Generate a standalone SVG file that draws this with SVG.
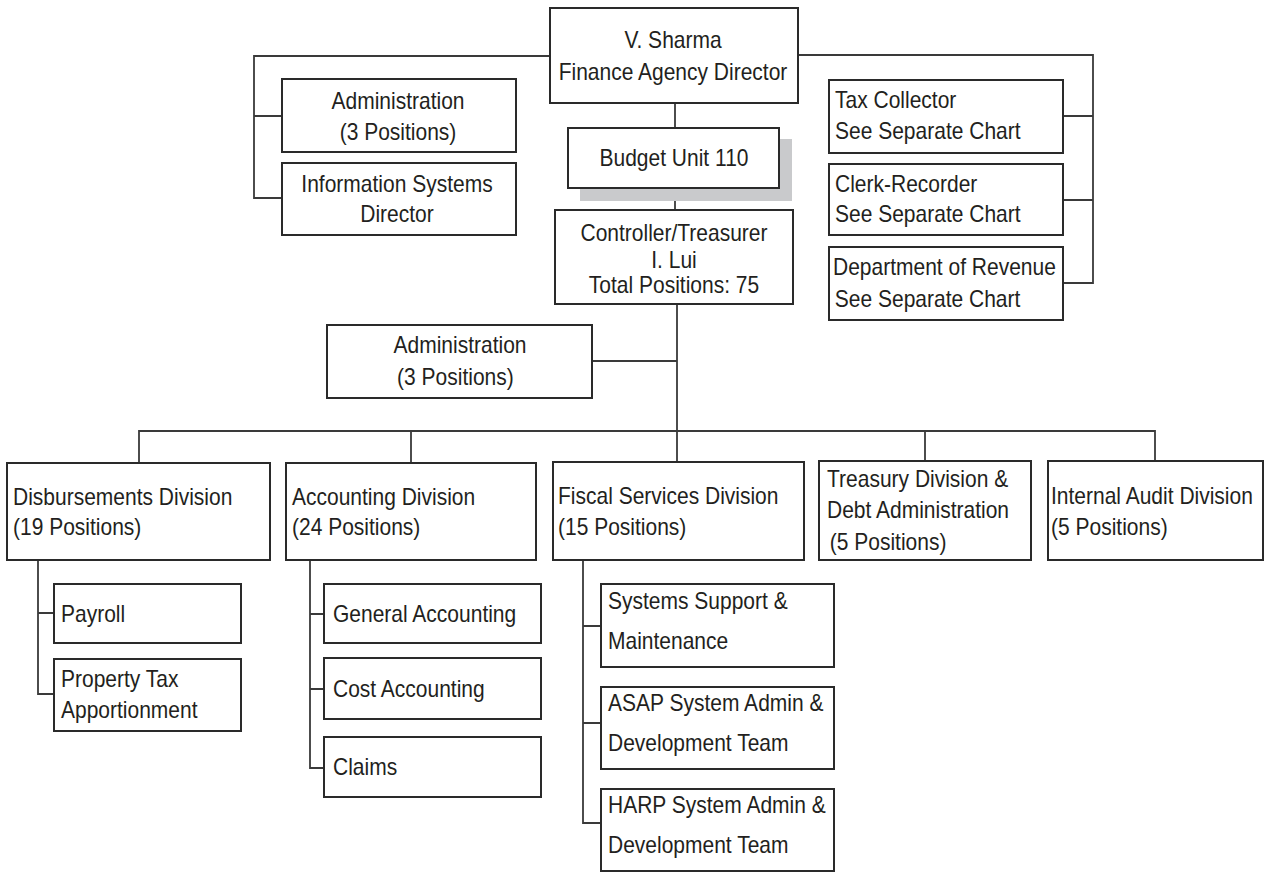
<svg xmlns="http://www.w3.org/2000/svg" width="1265" height="876" viewBox="0 0 1265 876">
  <style>
    .box { fill: #ffffff; stroke: #2a2a2a; stroke-width: 2; }
    .shadow { fill: #c9cacc; stroke: none; }
    .wire { fill: none; stroke: #3a3a3a; stroke-width: 1.8; }
    text { font-family: "Liberation Sans", Arial, sans-serif; font-size: 23px; fill: #231f20; }
    .c { text-anchor: middle; }
  </style>
  <rect width="1265" height="876" fill="#ffffff"/>

  <!-- reporting lines -->
  <g id="connectors">
    <path class="wire" d="M550 56 H254 V198 H282 M254 116 H282"/>
    <path class="wire" d="M798 55 H1093 V283 H1063 M1063 116 H1093 M1063 200 H1093"/>
    <path class="wire" d="M675 103 V128 M675 188 V210 M677 304 V431 M592 361 H677"/>
    <path class="wire" d="M139 463 V431 H1155 V461 M411 431 V463 M677 431 V462 M925 431 V461"/>
    <path class="wire" d="M38 560 V694 H54 M38 613 H54"/>
    <path class="wire" d="M310 560 V768 H324 M310 614 H324 M310 689 H324"/>
    <path class="wire" d="M583 560 V823 H601 M583 626 H601 M583 723 H601"/>
  </g>

  <!-- labels use a narrowed sans: each text is shifted to its anchor x, then squeezed horizontally -->

  <!-- top level -->
  <g id="director">
    <rect class="box" x="550" y="8" width="248" height="95"/>
    <text class="c" transform="translate(673 0) scale(.913 1)"><tspan x="0" y="48">V. Sharma</tspan><tspan x="0" y="80">Finance Agency Director</tspan></text>
  </g>
  <g id="admin-agency">
    <rect class="box" x="282" y="79" width="234" height="73"/>
    <text class="c" transform="translate(398 0) scale(.913 1)"><tspan x="0" y="109">Administration</tspan><tspan x="0" y="140">(3 Positions)</tspan></text>
  </g>
  <g id="info-systems">
    <rect class="box" x="282" y="163" width="234" height="72"/>
    <text class="c" transform="translate(397 0) scale(.913 1)"><tspan x="0" y="192">Information Systems</tspan><tspan x="0" y="222">Director</tspan></text>
  </g>
  <g id="budget-unit">
    <rect class="shadow" x="580" y="139" width="212" height="62"/>
    <rect class="box" x="568" y="128" width="211" height="60"/>
    <text class="c" transform="translate(674 0) scale(.913 1)"><tspan x="0" y="166">Budget Unit 110</tspan></text>
  </g>
  <g id="controller">
    <rect class="box" x="555" y="210" width="238" height="94"/>
    <text class="c" transform="translate(674 0) scale(.913 1)"><tspan x="0" y="241">Controller/Treasurer</tspan><tspan x="0" y="268">I. Lui</tspan><tspan x="0" y="293">Total Positions: 75</tspan></text>
  </g>
  <g id="tax-collector">
    <rect class="box" x="829" y="80" width="234" height="73"/>
    <text transform="translate(835 0) scale(.913 1)"><tspan x="0" y="108">Tax Collector</tspan><tspan x="0" y="139">See Separate Chart</tspan></text>
  </g>
  <g id="clerk-recorder">
    <rect class="box" x="829" y="164" width="234" height="71"/>
    <text transform="translate(835 0) scale(.913 1)"><tspan x="0" y="192">Clerk-Recorder</tspan><tspan x="0" y="222">See Separate Chart</tspan></text>
  </g>
  <g id="revenue">
    <rect class="box" x="829" y="247" width="234" height="73"/>
    <text transform="translate(833 0) scale(.913 1)"><tspan x="0" y="275">Department of Revenue</tspan><tspan x="2" y="307">See Separate Chart</tspan></text>
  </g>
  <g id="admin-controller">
    <rect class="box" x="327" y="325" width="265" height="73"/>
    <text class="c" transform="translate(460 0) scale(.913 1)"><tspan x="0" y="353">Administration</tspan><tspan x="-5" y="385">(3 Positions)</tspan></text>
  </g>

  <!-- divisions -->
  <g id="disbursements">
    <rect class="box" x="7" y="463" width="263" height="97"/>
    <text transform="translate(13 0) scale(.913 1)"><tspan x="0" y="505">Disbursements Division</tspan><tspan x="0" y="535">(19 Positions)</tspan></text>
  </g>
  <g id="accounting">
    <rect class="box" x="286" y="463" width="250" height="97"/>
    <text transform="translate(292 0) scale(.913 1)"><tspan x="0" y="505">Accounting Division</tspan><tspan x="0" y="535">(24 Positions)</tspan></text>
  </g>
  <g id="fiscal">
    <rect class="box" x="553" y="462" width="251" height="98"/>
    <text transform="translate(558 0) scale(.913 1)"><tspan x="0" y="504">Fiscal Services Division</tspan><tspan x="0" y="535">(15 Positions)</tspan></text>
  </g>
  <g id="treasury">
    <rect class="box" x="819" y="461" width="212" height="99"/>
    <text transform="translate(827 0) scale(.913 1)"><tspan x="0" y="487">Treasury Division &amp;</tspan><tspan x="0" y="518">Debt Administration</tspan><tspan x="3" y="550">(5 Positions)</tspan></text>
  </g>
  <g id="internal-audit">
    <rect class="box" x="1048" y="461" width="215" height="99"/>
    <text transform="translate(1051 0) scale(.913 1)"><tspan x="0" y="504">Internal Audit Division</tspan><tspan x="0" y="535">(5 Positions)</tspan></text>
  </g>

  <!-- units -->
  <g id="payroll">
    <rect class="box" x="54" y="584" width="187" height="59"/>
    <text transform="translate(61 0) scale(.913 1)"><tspan x="0" y="622">Payroll</tspan></text>
  </g>
  <g id="property-tax">
    <rect class="box" x="54" y="659" width="187" height="72"/>
    <text transform="translate(61 0) scale(.913 1)"><tspan x="0" y="687">Property Tax</tspan><tspan x="0" y="718">Apportionment</tspan></text>
  </g>
  <g id="general-accounting">
    <rect class="box" x="324" y="584" width="217" height="59"/>
    <text transform="translate(333 0) scale(.913 1)"><tspan x="0" y="622">General Accounting</tspan></text>
  </g>
  <g id="cost-accounting">
    <rect class="box" x="324" y="658" width="217" height="61"/>
    <text transform="translate(333 0) scale(.913 1)"><tspan x="0" y="697">Cost Accounting</tspan></text>
  </g>
  <g id="claims">
    <rect class="box" x="324" y="737" width="217" height="60"/>
    <text transform="translate(333 0) scale(.913 1)"><tspan x="0" y="775">Claims</tspan></text>
  </g>
  <g id="systems-support">
    <rect class="box" x="601" y="584" width="233" height="83"/>
    <text transform="translate(608 0) scale(.913 1)"><tspan x="0" y="609">Systems Support &amp;</tspan><tspan x="0" y="649">Maintenance</tspan></text>
  </g>
  <g id="asap">
    <rect class="box" x="601" y="687" width="233" height="82"/>
    <text transform="translate(608 0) scale(.913 1)"><tspan x="0" y="711">ASAP System Admin &amp;</tspan><tspan x="0" y="751">Development Team</tspan></text>
  </g>
  <g id="harp">
    <rect class="box" x="601" y="789" width="233" height="82"/>
    <text transform="translate(608 0) scale(.913 1)"><tspan x="0" y="813">HARP System Admin &amp;</tspan><tspan x="0" y="853">Development Team</tspan></text>
  </g>
</svg>
